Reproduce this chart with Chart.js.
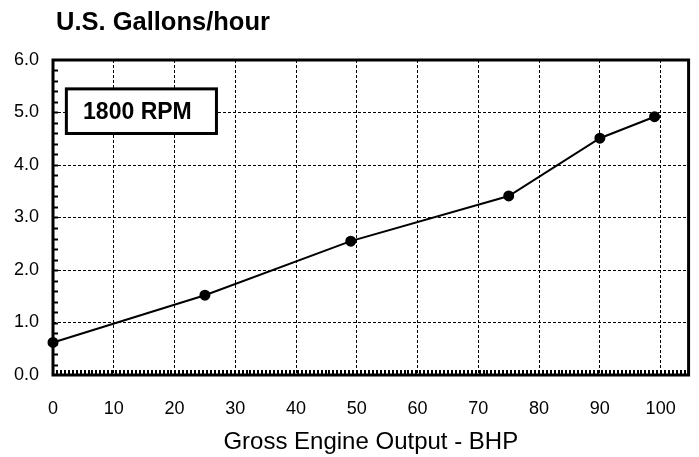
<!DOCTYPE html>
<html>
<head>
<meta charset="utf-8">
<script src="https://cdn.jsdelivr.net/npm/chart.js@4"></script>
<style>
  html, body { margin: 0; padding: 0; background: #fff; }
  #wrap { width: 699px; height: 457px; position: relative; }
</style>
</head>
<body>
<div id="wrap"><canvas id="fuelChart"></canvas></div>
<script>
// fuel consumption at 1800 RPM
const bhpValues = [0, 25, 49, 75, 90, 99];
const gallonsPerHour = [0.62, 1.52, 2.55, 3.41, 4.51, 4.92];
const xTickValues = [0, 10, 20, 30, 40, 50, 60, 70, 80, 90, 100];
const yTickValues = [0, 1, 2, 3, 4, 5, 6];

const chartTitle = 'U.S. Gallons/hour';
const xAxisTitle = 'Gross Engine Output - BHP';
const boxLabel = '1800 RPM';

const FONT = '"Liberation Sans", Arial, sans-serif';

const framePlugin = {
    id: 'frame',
    afterDatasetsDraw(chart) {
        const { ctx, chartArea: a, scales: { x, y } } = chart;
        ctx.save();

        // minor ticks on left axis (every 0.2)
        ctx.strokeStyle = '#000';
        ctx.lineWidth = 2;
        ctx.beginPath();
        for (let v = 0.2; v < 6; v += 0.2) {
            const py = Math.round(y.getPixelForValue(v)) + 0.5;
            ctx.moveTo(a.left, py);
            ctx.lineTo(a.left + 5, py);
        }
        // minor ticks on bottom axis
        for (let v = 0.65; v < x.max; v += 0.65) {
            const px = Math.round(x.getPixelForValue(v));
            ctx.moveTo(px, a.bottom);
            ctx.lineTo(px, a.bottom - 5);
        }
        ctx.stroke();

        // frame around plot area
        ctx.lineWidth = 3;
        ctx.strokeRect(a.left, a.top, a.right - a.left, a.bottom - a.top);

        // RPM label box
        const bx1 = x.getPixelForValue(2.2), bx2 = x.getPixelForValue(26.9);
        const by1 = y.getPixelForValue(5.45), by2 = y.getPixelForValue(4.6);
        ctx.fillStyle = '#fff';
        ctx.fillRect(bx1, by1, bx2 - bx1, by2 - by1);
        ctx.lineWidth = 3;
        ctx.strokeRect(bx1, by1, bx2 - bx1, by2 - by1);
        ctx.fillStyle = '#000';
        ctx.font = 'bold 23px ' + FONT;
        ctx.textBaseline = 'middle';
        ctx.textAlign = 'center';
        ctx.fillText(boxLabel, (bx1 + bx2) / 2 - 4, (by1 + by2) / 2 + 1);

        // chart title
        ctx.font = 'bold 25.5px ' + FONT;
        ctx.textAlign = 'left';
        ctx.fillText(chartTitle, 56, 23);
        ctx.restore();
    }
};

const ctx = document.getElementById('fuelChart').getContext('2d');

new Chart(ctx, {
    type: 'line',
    data: {
        datasets: [{
            data: bhpValues.map((b, i) => ({ x: b, y: gallonsPerHour[i] })),
            borderColor: '#000',
            borderWidth: 2,
            pointBackgroundColor: '#000',
            pointBorderColor: '#000',
            pointRadius: 4.5,
            tension: 0,
            clip: false,
        }],
    },
    options: {
        responsive: true,
        maintainAspectRatio: false,
        animation: false,
        layout: { padding: { top: 60, right: 8, left: 0, bottom: 0 } },
        plugins: {
            legend: { display: false },
            tooltip: { enabled: false },
        },
        scales: {
            x: {
                type: 'linear',
                min: 0,
                max: 104.6,
                afterBuildTicks: (scale) => {
                    scale.ticks = xTickValues.map(v => ({ value: v }));
                },
                afterFit: (scale) => { scale.height = 82; },
                // in v4 the grid line dash comes from border.dash
                border: { display: false, dash: [3, 2] },
                grid: {
                    color: '#000',
                    lineWidth: 1,
                    drawTicks: false,
                },
                ticks: {
                    color: '#000',
                    padding: 23,
                    maxRotation: 0,
                    autoSkip: false,
                    font: { family: FONT, size: 18 },
                },
                title: {
                    display: true,
                    text: xAxisTitle,
                    color: '#000',
                    padding: { top: 0, bottom: 0 },
                    font: { family: FONT, size: 24 },
                },
            },
            y: {
                type: 'linear',
                min: 0,
                max: 6,
                afterBuildTicks: (scale) => {
                    scale.ticks = yTickValues.map(v => ({ value: v }));
                },
                afterFit: (scale) => { scale.width = 53; },
                border: { display: false, dash: [3, 2] },
                grid: {
                    color: '#000',
                    lineWidth: 1,
                    drawTicks: false,
                },
                ticks: {
                    color: '#000',
                    padding: 14,
                    callback: (v) => v.toFixed(1),
                    font: { family: FONT, size: 18 },
                },
            },
        },
    },
    plugins: [framePlugin],
});
</script>
</body>
</html>
